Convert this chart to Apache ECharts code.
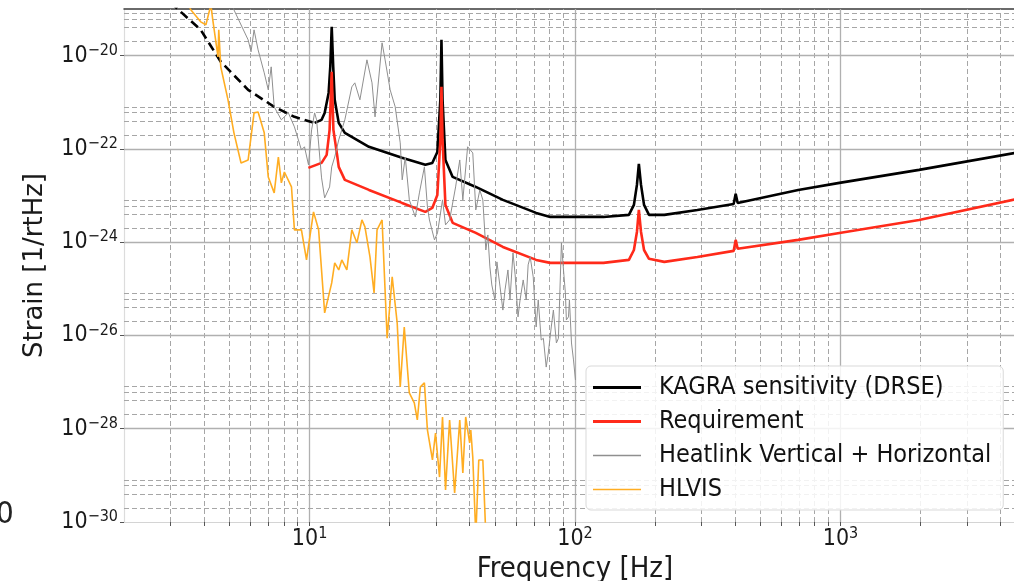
<!DOCTYPE html>
<html>
<head>
<meta charset="utf-8">
<script src="https://cdn.jsdelivr.net/npm/echarts@6.0.0/dist/echarts.min.js"></script>
<style>
  html, body { margin: 0; padding: 0; background: #fff; }
  #chart { width: 1014px; height: 581px; }
</style>
</head>
<body>
<div id="chart"></div>
<script>
// KAGRA sensitivity, low-frequency (dashed) part
var kagraLowFreq   = [3.0, 3.21, 3.89, 4.63, 5.87, 7.36, 8.77, 10.45];
var kagraLowStrain = [1.4e-19, 9.6e-20, 3.57e-20, 7.4e-21, 1.85e-21, 7.98e-22, 4.87e-22, 3.62e-22];

// KAGRA sensitivity (DRSE)
var kagraFreq = [10.45, 11.1, 11.4, 11.8, 11.97, 12.12, 12.28, 12.44, 12.88, 13.58, 16.74, 22.3, 27.3, 29.0, 30.3, 31.1, 31.4, 31.7,
  32.5, 34.6, 42.3, 53.5, 71.4, 80.7, 128, 159.6, 166.7, 171.1, 174, 177.3, 182, 190, 217, 289, 396, 403, 410, 693, 991, 1977, 5000];
var kagraStrain = [3.62e-22, 4.2e-22, 5.9e-22, 1.59e-21, 5.75e-21, 4.15e-20, 5.75e-21, 1.13e-21, 3.62e-22, 2.21e-22, 1.11e-22, 6.43e-23,
  4.55e-23, 5.0e-23, 8.6e-23, 1.13e-21, 2.18e-20, 1.13e-21, 5.8e-23, 2.51e-23, 1.53e-23, 8.07e-24, 4.25e-24, 3.48e-24, 3.48e-24,
  3.85e-24, 6.3e-24, 1.69e-23, 4.78e-23, 1.69e-23, 6.3e-24, 3.85e-24, 3.85e-24, 4.92e-24, 6.6e-24, 1.09e-23, 6.95e-24, 1.32e-23,
  1.87e-23, 3.55e-23, 9.0e-23];

// Requirement
var reqFreq = [9.9, 11.1, 11.6, 11.9, 12.12, 12.3, 12.7, 12.88, 13.58, 16.74, 22.3, 27.3, 29.0, 30.3, 31.1, 31.4, 31.7, 32.5, 34.6,
  42.3, 53.5, 71.4, 80.7, 128, 159.6, 166.7, 171.1, 174, 177.3, 182, 190, 217, 289, 396, 403, 410, 693, 991, 1977, 5000];
var reqStrain = [3.92e-23, 5.02e-23, 7.45e-23, 2.56e-22, 4.49e-21, 2.56e-22, 7.45e-23, 4.12e-23, 2.17e-23, 1.32e-23, 6.95e-24, 4.46e-24,
  5.43e-24, 1.03e-23, 1.56e-22, 2.14e-21, 1.56e-22, 6.3e-24, 2.6e-24, 1.58e-24, 7.9e-25, 4.17e-25, 3.6e-25, 3.6e-25, 4.17e-25, 6.8e-25,
  1.66e-24, 4.92e-24, 1.66e-24, 6.8e-25, 4.4e-25, 3.78e-25, 4.83e-25, 6.5e-25, 1.12e-24, 7.2e-25, 1.12e-24, 1.58e-24, 3.0e-24, 9.3e-24];

// Heatlink Vertical + Horizontal
var heatFreq = [5.06, 5.19, 5.87, 6.02, 6.18, 6.40, 6.75, 6.99, 7.17, 7.36, 7.83, 8.32, 8.77, 9.32, 9.57, 9.91, 10.18, 10.45, 10.63,
  11.1, 11.4, 11.9, 12.12, 12.44, 12.88, 13.58, 14.43, 14.81, 15.48, 16.45, 17.19, 17.65, 18.76, 19.26, 20.12, 21.02, 21.96, 22.34,
  22.94, 23.76, 25.03, 25.93, 27.08, 27.80, 28.29, 29.56, 30.34, 31.69, 32.53, 33.7, 35.5, 36.8, 37.8, 39.4, 41.2, 42.3, 43.8, 44.96,
  46.15, 46.96, 47.8, 48.6, 49.9, 50.8, 52.2, 53.5, 54.5, 55.9, 56.9, 58.4, 59.5, 61.0, 62.1, 63.8, 65.5, 66.6, 67.8, 69.6, 71.4,
  72.7, 74.6, 76.0, 77.9, 79.3, 81.4, 82.9, 85.1, 86.6, 88.9, 90.5, 92.0, 92.8, 94.5, 95.3, 97.0, 98.7, 100.4];
var heatStrain = [1.58e-19, 9.6e-20, 2.18e-20, 1.21e-20, 3.57e-20, 1.33e-20, 4.28e-21, 1.85e-21, 5.75e-21, 7.98e-22, 4.2e-22, 5.93e-22,
  2.97e-22, 9.5e-23, 1.11e-22, 4.55e-23, 2.56e-22, 5.93e-22, 4.2e-22, 2.39e-23, 8.9e-24, 1.53e-23, 4.12e-23, 6.7e-23, 1.56e-22, 4.2e-22,
  2.14e-21, 2.61e-21, 1.13e-21, 8.13e-21, 2.61e-21, 4.86e-22, 1.88e-20, 8.13e-21, 1.85e-21, 7.98e-22, 1.35e-22, 2.17e-23, 6.7e-23,
  8.07e-24, 3.48e-24, 1.14e-23, 4.12e-23, 5.71e-24, 3.0e-24, 1.12e-24, 1.58e-24, 8.07e-24, 2.35e-24, 3.0e-24, 1.53e-23, 5.8e-23,
  8.07e-24, 1.11e-22, 8.2e-23, 4.92e-24, 1.32e-23, 8.07e-24,
  6.8e-25, 1.43e-24, 2.95e-25, 1.21e-25, 5.8e-26, 3.78e-25, 1.1e-25, 3.5e-26, 9.5e-26, 2.54e-25, 5.8e-26, 5.9e-25, 1.99e-25, 2.5e-26,
  5.8e-26, 1.55e-25, 5.8e-26, 3.26e-25, 4.83e-25, 1.8e-25, 1.52e-26, 5.8e-26, 8.0e-27, 8.7e-27, 2.1e-27, 4.15e-27, 1.52e-26, 3.5e-26,
  6.9e-27, 8.7e-27, 9.7e-25, 2.54e-25, 8.2e-26, 2.15e-26, 2.5e-26, 5.8e-26, 6.9e-27, 2.99e-27, 1.11e-27];

// HLVIS
var hlvisFreq = [3.44, 3.57, 3.89, 4.07, 4.25, 4.32, 4.52, 4.55, 4.63, 4.93, 5.19, 5.52, 5.87, 6.18, 6.40, 6.75, 6.99, 7.36, 7.63,
  7.83, 8.04, 8.55, 8.77, 9.32, 9.74, 10.35, 10.82, 11.4, 12.12, 12.44, 12.88, 13.23, 13.82, 14.43, 15.08, 15.75, 16.17, 16.89, 17.50,
  17.96, 18.76, 19.60, 20.48, 21.39, 21.96, 22.74, 23.76, 24.81, 25.47, 26.15, 27.08, 27.80, 29.04, 29.82, 30.88, 31.69, 32.53, 33.7,
  35.2, 36.8, 37.8, 38.75, 40.1, 40.5, 41.2, 42.3, 43.4, 44.96, 46.15];
var hlvisStrain = [1.58e-19, 9.6e-20, 5.3e-20, 4.58e-20, 1.23e-19, 5.86e-20, 9.4e-21, 3.57e-20, 5.75e-21, 1.13e-21, 2.21e-22, 5.0e-23,
  5.8e-23, 5.93e-22, 6.2e-22, 2.21e-22, 2.51e-23, 1.14e-23, 6.7e-23, 1.87e-23, 3.2e-23, 1.53e-23, 1.84e-24, 1.84e-24, 4.17e-25,
  4.46e-24, 1.84e-24, 3.04e-26, 1.34e-25, 3.6e-25, 2.54e-25, 4.17e-25, 2.54e-25, 1.84e-24, 9.7e-25, 3.0e-24, 2.13e-24, 4.83e-25,
  8.2e-26, 1.84e-24, 3.0e-24, 8.7e-27, 1.8e-25, 1.85e-26, 7.9e-28, 1.52e-26, 5.85e-28, 3.57e-28, 1.54e-28, 7.9e-28, 9.6e-28, 9.4e-29,
  2.14e-29, 8.1e-29, 9.2e-30, 1.79e-28, 4.85e-30, 1.54e-28, 4.2e-30, 1.54e-28, 1.12e-29, 1.79e-28, 4.95e-29, 9.4e-29, 2.48e-29,
  5e-31, 2.14e-29, 2.14e-29, 5e-31];

// ticks and grid lines
var xLabelTicks = [10, 100, 1000];
var xMinorTicks = [3, 4, 5, 6, 7, 8, 9, 20, 30, 40, 50, 60, 70, 80, 90, 200, 300, 400, 500, 600, 700, 800, 900, 2000, 3000, 4000];
var yLabelTicks = [1e-30, 1e-28, 1e-26, 1e-24, 1e-22, 1e-20];
var yMinorTicks = [2e-30, 4e-30, 6e-30, 8e-30, 2e-28, 4e-28, 6e-28, 8e-28, 2e-26, 4e-26, 6e-26, 8e-26,
  2e-24, 4e-24, 6e-24, 8e-24, 2e-22, 4e-22, 6e-22, 8e-22, 2e-20, 4e-20, 6e-20, 8e-20];

var X_MIN = 2, X_MAX = 5000, Y_MIN = 1e-30, Y_MAX = 1e-19;

function pairs(xs, ys) {
  var res = [];
  for (var i = 0; i < xs.length; i++) {
    res.push([xs[i], ys[i]]);
  }
  return res;
}

var chart = echarts.init(document.getElementById('chart'), null, { renderer: 'canvas' });

var MAJOR = { color: '#b0b0b0', width: 1.3, type: 'solid' };
var MINOR = { color: '#a6a6a6', width: 1, type: [5, 3] };

// grid lines as explicit segments, so they go through the log scales
var gridLines = [];
function vLine(v, style) { gridLines.push([{ coord: [v, Y_MIN], lineStyle: style }, { coord: [v, Y_MAX] }]); }
function hLine(v, style) { gridLines.push([{ coord: [X_MIN, v], lineStyle: style }, { coord: [X_MAX, v] }]); }
xLabelTicks.forEach(function (v) { vLine(v, MAJOR); });
xMinorTicks.forEach(function (v) { vLine(v, MINOR); });
yLabelTicks.slice(1).forEach(function (v) { hLine(v, MAJOR); });
yMinorTicks.forEach(function (v) { hLine(v, MINOR); });

var tickFont = 'DejaVu Sans Condensed';
var richPow = {
  b: { fontFamily: tickFont, fontSize: 23, color: '#1a1a1a', lineHeight: 26 },
  s: { fontFamily: tickFont, fontSize: 16, color: '#1a1a1a', lineHeight: 16, verticalAlign: 'top' }
};
function powLabel(v) {
  var e = Math.round(Math.log10(v));
  return '{b|10}{s|' + String(e).replace('-', '\u2212') + '}';
}

var thickIcon = 'path://M0,0H48V3H0Z';
var thinIcon = 'path://M0,0H48V1.3H0Z';

var option = {
  animation: false,
  backgroundColor: '#fff',
  grid: { left: 124, right: -12, top: 9, bottom: 59, outerBoundsMode: 'none', containLabel: false },
  legend: {
    data: [
      { name: 'KAGRA sensitivity (DRSE)', icon: thickIcon },
      { name: 'Requirement', icon: thickIcon },
      { name: 'Heatlink Vertical + Horizontal', icon: thinIcon },
      { name: 'HLVIS', icon: thinIcon }
    ],
    z: 10,
    orient: 'vertical',
    left: 586,
    top: 366,
    padding: [9, 12, 8, 7],
    itemGap: 9,
    itemWidth: 48,
    itemHeight: 14,
    backgroundColor: 'rgba(255,255,255,0.85)',
    borderColor: '#d9d9d9',
    borderWidth: 1,
    borderRadius: 5,
    textStyle: { fontFamily: tickFont, fontSize: 25, lineHeight: 25, color: '#111', padding: [0, 0, 0, 13] }
  },
  xAxis: [{
    type: 'log',
    logBase: 10,
    min: X_MIN,
    max: X_MAX,
    name: 'Frequency [Hz]',
    nameLocation: 'middle',
    nameGap: 27,
    nameTextStyle: { fontFamily: tickFont, fontSize: 29, color: '#1a1a1a' },
    axisLine: { show: true, lineStyle: { color: '#d4d4d4', width: 1.2 } },
    axisTick: { show: true, customValues: xLabelTicks.concat(xMinorTicks), length: 4, lineStyle: { color: '#555' } },
    axisLabel: { customValues: xLabelTicks, margin: 4, formatter: powLabel, rich: richPow },
    splitLine: { show: false },
    minorTick: { show: false }
  }, {
    type: 'log',
    logBase: 10,
    min: X_MIN,
    max: X_MAX,
    position: 'top',
    axisLine: { show: true, lineStyle: { color: '#3a3a3a', width: 1.5 } },
    axisTick: { show: false },
    axisLabel: { show: false },
    splitLine: { show: false }
  }],
  yAxis: {
    type: 'log',
    logBase: 10,
    min: Y_MIN,
    max: Y_MAX,
    name: 'Strain [1/rtHz]',
    nameLocation: 'middle',
    nameGap: 76,
    nameRotate: 90,
    nameTextStyle: { fontFamily: 'DejaVu Sans', fontSize: 26, color: '#1a1a1a' },
    axisLine: { show: true, lineStyle: { color: '#dcdcdc', width: 1.2 } },
    axisTick: { show: true, customValues: yLabelTicks, length: 4, lineStyle: { color: '#555' } },
    axisLabel: { customValues: yLabelTicks, margin: 6, formatter: powLabel, rich: richPow },
    splitLine: { show: false },
    minorTick: { show: false }
  },
  graphic: [{
    type: 'text', left: -4, top: 499,
    style: { text: '0', font: '31px "DejaVu Sans Condensed"', fill: '#222' }
  }],
  series: [
    {
      name: 'grid', type: 'line', data: [], z: 1, silent: true,
      markLine: { z: 1, silent: true, symbol: ['none', 'none'], label: { show: false }, animation: false, data: gridLines }
    },
    {
      name: 'KAGRA low', type: 'line', z: 3, symbol: 'none', showSymbol: false,
      data: pairs(kagraLowFreq, kagraLowStrain),
      color: '#000', lineStyle: { color: '#000', width: 2.6, type: [9, 5] }
    },
    {
      name: 'KAGRA sensitivity (DRSE)', type: 'line', z: 3, symbol: 'none', showSymbol: false,
      data: pairs(kagraFreq, kagraStrain),
      color: '#000', itemStyle: { color: '#000' }, lineStyle: { color: '#000', width: 2.6 }
    },
    {
      name: 'Requirement', type: 'line', z: 4, symbol: 'none', showSymbol: false,
      data: pairs(reqFreq, reqStrain),
      color: '#ff2a1a', itemStyle: { color: '#ff2a1a' }, lineStyle: { color: '#ff2a1a', width: 2.6 }
    },
    {
      name: 'Heatlink Vertical + Horizontal', type: 'line', z: 5, symbol: 'none', showSymbol: false,
      data: pairs(heatFreq, heatStrain),
      color: '#8f8f8f', itemStyle: { color: '#8f8f8f' }, lineStyle: { color: '#8f8f8f', width: 1 }
    },
    {
      name: 'HLVIS', type: 'line', z: 6, symbol: 'none', showSymbol: false,
      data: pairs(hlvisFreq, hlvisStrain),
      color: '#ffad22', itemStyle: { color: '#ffad22' }, lineStyle: { color: '#ffad22', width: 1.6 }
    }
  ]
};

chart.setOption(option);
</script>
</body>
</html>
